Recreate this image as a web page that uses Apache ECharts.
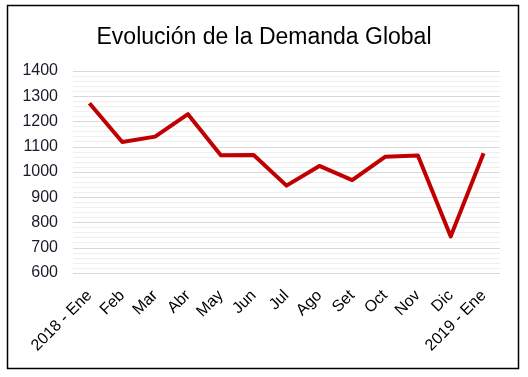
<!DOCTYPE html>
<html>
<head>
<meta charset="utf-8">
<script src="https://cdn.jsdelivr.net/npm/echarts@6/dist/echarts.min.js"></script>
<style>
  html, body { margin: 0; padding: 0; background: #fff; }
  #container { width: 528px; height: 377px; }
</style>
</head>
<body>
<div id="container"></div>
<script>
  // meses
  let categories = ['2018 - Ene', 'Feb', 'Mar', 'Abr', 'May', 'Jun', 'Jul', 'Ago', 'Set', 'Oct', 'Nov', 'Dic', '2019 - Ene'];
  // demanda
  let demanda = [1272, 1119, 1140, 1229, 1066, 1067, 946, 1024, 968, 1060, 1065, 745, 1074];
  let yTicks = [600, 700, 800, 900, 1000, 1100, 1200, 1300, 1400];

  let myChart = echarts.init(document.getElementById('container'));
  let option = {
    animation: false,
    backgroundColor: '#fff',
    title: {
      text: 'Evolución de la Demanda Global',
      left: 'center',
      top: 21,
      textStyle: {
        fontFamily: 'Liberation Sans, Arial, sans-serif',
        fontSize: 23,
        fontWeight: 'normal',
        color: '#000'
      }
    },
    graphic: [{
      type: 'rect',
      shape: { x: 7.5, y: 5.5, width: 511, height: 363 },
      style: { fill: 'none', stroke: '#000', lineWidth: 1.5 },
      silent: true
    }],
    grid: {
      left: 73,
      right: 28,
      top: 71,
      bottom: 104
    },
    xAxis: {
      type: 'category',
      data: categories,
      boundaryGap: true,
      axisLine: { show: false },
      axisTick: { show: false },
      axisLabel: {
        interval: 0,
        rotate: 45,
        margin: 20,
        fontFamily: 'Liberation Sans, Arial, sans-serif',
        fontSize: 16,
        color: '#000'
      }
    },
    yAxis: {
      type: 'value',
      min: yTicks[0],
      max: yTicks[yTicks.length - 1],
      interval: 100,
      axisLine: { show: false },
      axisTick: { show: false },
      axisLabel: {
        margin: 15,
        fontFamily: 'Liberation Sans, Arial, sans-serif',
        fontSize: 16,
        color: '#1a1a2a',
        formatter: function (value) {
          return String(value);
        }
      },
      splitLine: {
        show: true,
        lineStyle: { color: '#d9d9d9', width: 1 }
      },
      minorTick: { show: false, splitNumber: 5 },
      minorSplitLine: {
        show: true,
        lineStyle: { color: '#efefef', width: 1 }
      }
    },
    series: [{
      type: 'line',
      data: demanda,
      symbol: 'none',
      lineStyle: { color: '#c00000', width: 4, join: 'round' },
      itemStyle: { color: '#c00000' }
    }]
  };
  myChart.setOption(option);
</script>
</body>
</html>
